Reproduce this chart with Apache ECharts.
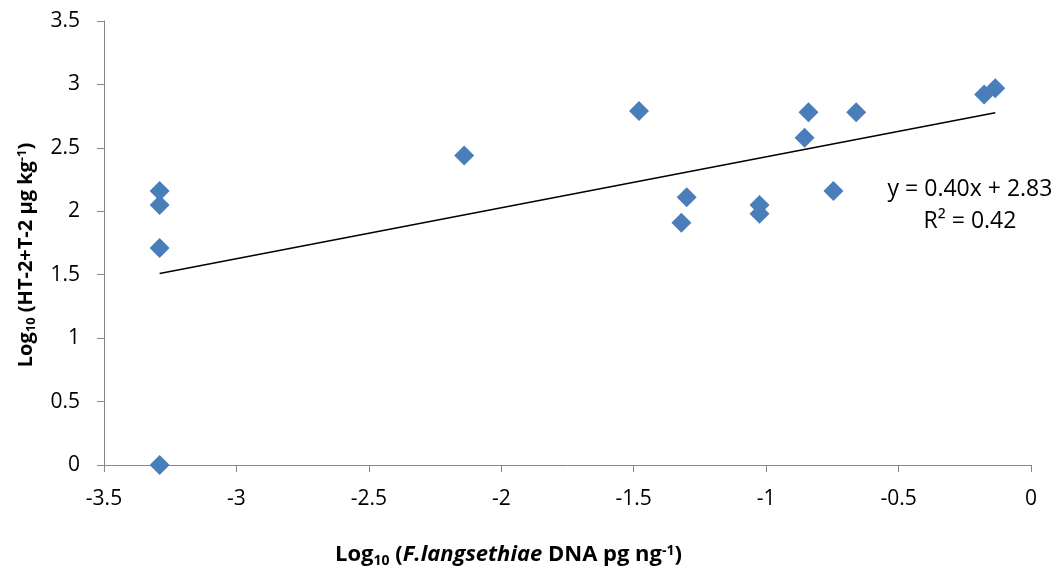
<!DOCTYPE html>
<html>
<head>
<meta charset="utf-8">
<script src="https://cdn.jsdelivr.net/npm/echarts@6/dist/echarts.min.js"></script>
<style>html,body{margin:0;padding:0;background:#fff}#c{width:1062px;height:569px}</style>
</head>
<body>
<div id="c"></div>
<script>
const pointsX = [-3.29, -3.29, -3.29, -3.29, -2.14, -1.48, -1.30, -1.32, -1.025, -1.025, -0.855, -0.84, -0.746, -0.66, -0.177, -0.135];
const pointsY = [2.16, 2.05, 1.71, 0.0, 2.44, 2.79, 2.11, 1.91, 2.05, 1.98, 2.58, 2.78, 2.16, 2.78, 2.92, 2.97];
const trendX = [-3.29, -0.135];
const trendY = [1.51, 2.776];
const equationText = 'y = 0.40x + 2.83';
const r2Text = 'R² = 0.42';

const scatterData = pointsX.map((x, i) => [x, pointsY[i]]);
const trendData = trendX.map((x, i) => [x, trendY[i]]);
const FONT = '"Open Sans", "Noto Sans", sans-serif';
const axisGray = '#868686';

function richStyles(size) {
  const base = {fontWeight: 'bold', fontFamily: FONT, color: '#000'};
  const small = Math.round(size * 0.65);
  return {
    b: Object.assign({fontSize: size, lineHeight: size + 2, verticalAlign: 'top'}, base),
    i: Object.assign({fontSize: size, fontStyle: 'italic', lineHeight: size + 2, verticalAlign: 'top'}, base),
    sub: Object.assign({fontSize: small, lineHeight: small + 1, padding: [Math.round(size * 0.6), 0, 0, 0], verticalAlign: 'bottom'}, base),
    sup: Object.assign({fontSize: small, lineHeight: small + 1, verticalAlign: 'top'}, base)
  };
}

const chart = echarts.init(document.getElementById('c'), null, {renderer: 'canvas'});
chart.setOption({
  animation: false,
  backgroundColor: '#fff',
  grid: {left: 104, right: 31, top: 21, bottom: 104, containLabel: false, outerBoundsMode: 'none'},
  xAxis: {
    type: 'value', min: -3.5, max: 0, interval: 0.5,
    splitLine: {show: false},
    axisLine: {onZero: false, lineStyle: {color: axisGray, width: 1}},
    axisTick: {show: true, length: 7, lineStyle: {color: axisGray}},
    axisLabel: {color: '#000', fontSize: 21, fontFamily: FONT, margin: 24},
    name: '{b|Log}{sub|10}{b| (}{i|F.langsethiae}{b| DNA pg ng}{sup|-1}{b|)}',
    nameLocation: 'middle', nameGap: 79,
    nameTextStyle: {rich: richStyles(22), padding: [0, 118, 0, 0]}
  },
  yAxis: {
    type: 'value', min: 0, max: 3.5, interval: 0.5,
    splitLine: {show: false},
    axisLine: {show: true, onZero: false, lineStyle: {color: axisGray, width: 1}},
    axisTick: {show: true, length: 7, lineStyle: {color: axisGray}},
    axisLabel: {color: '#000', fontSize: 21, fontFamily: FONT, margin: 24},
    name: '{b|Log}{sub|10}{b| (HT-2+T-2 µg kg}{sup|-1}{b|)}',
    nameLocation: 'middle', nameGap: 66, nameRotate: 90,
    nameTextStyle: {rich: richStyles(20), padding: [0, 24, 0, 0]}
  },
  series: [
    {
      type: 'line', data: trendData, symbol: 'none', silent: true,
      lineStyle: {color: '#000', width: 1.5}, z: 1
    },
    {
      type: 'scatter', data: scatterData, symbol: 'diamond', symbolSize: 20,
      itemStyle: {color: '#4A7EBB', opacity: 1}, z: 2
    }
  ],
  graphic: [
    {type: 'text', x: 970, y: 189, style: {text: equationText, fontSize: 23, fontFamily: FONT, fill: '#000', align: 'center', verticalAlign: 'middle'}},
    {type: 'text', x: 970, y: 221, style: {text: r2Text, fontSize: 23, fontFamily: FONT, fill: '#000', align: 'center', verticalAlign: 'middle'}}
  ]
});
</script>
</body>
</html>
